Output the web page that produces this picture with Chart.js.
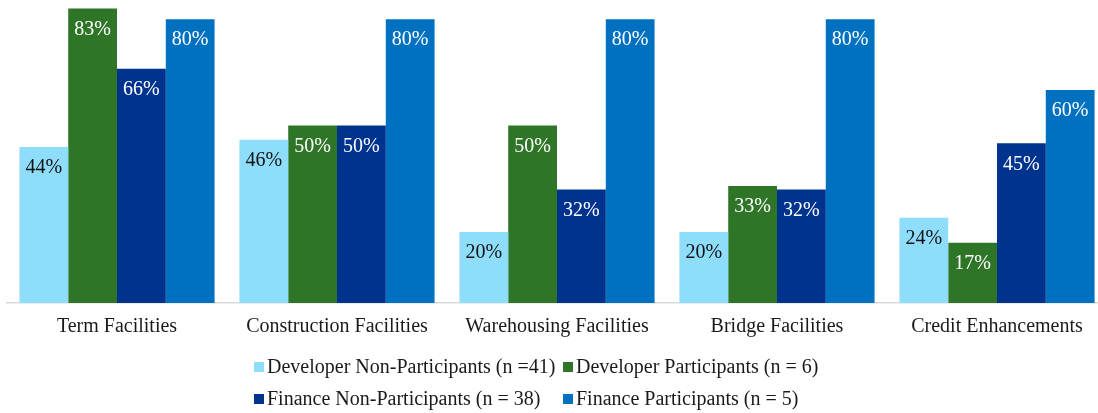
<!DOCTYPE html>
<html>
<head>
<meta charset="utf-8">
<script src="https://cdn.jsdelivr.net/npm/chart.js@4.4.0/dist/chart.umd.min.js"></script>
<style>
    html, body { margin: 0; padding: 0; background: #fff; overflow: hidden; }
    #wrap { width: 1098px; height: 413px; overflow: hidden; position: relative; }
    canvas { position: absolute; left: 0; top: 0; }
</style>
</head>
<body>
<div id="wrap"><canvas id="chart" width="1107" height="413"></canvas></div>
<script>
// Datos del gráfico
const categories = ['Term Facilities', 'Construction Facilities', 'Warehousing Facilities', 'Bridge Facilities', 'Credit Enhancements'];
const seriesNames = [
    'Developer Non-Participants (n =41)',
    'Developer Participants (n = 6)',
    'Finance Non-Participants (n = 38)',
    'Finance Participants (n = 5)'
];
const devNonParticipants = [44, 46, 20, 20, 24];
const devParticipants = [83, 50, 50, 33, 17];
const finNonParticipants = [66, 50, 32, 32, 45];
const finParticipants = [80, 80, 80, 80, 60];

const colors = ['#8EDEFB', '#2E7527', '#00338D', '#0070C0'];
const labelColors = ['#111111', '#ffffff', '#ffffff', '#ffffff'];
const FONT = '"Liberation Serif", "Times New Roman", serif';

// Etiquetas de valores dentro de las barras
const valueLabels = {
    id: 'valueLabels',
    afterDatasetsDraw(chart) {
        const ctx = chart.ctx;
        ctx.save();
        ctx.font = '20px ' + FONT;
        ctx.textAlign = 'center';
        ctx.textBaseline = 'middle';
        chart.data.datasets.forEach((ds, i) => {
            const meta = chart.getDatasetMeta(i);
            meta.data.forEach((bar, j) => {
                ctx.fillStyle = labelColors[i];
                ctx.fillText(ds.data[j] + '%', bar.x, bar.y + 21);
            });
        });
        ctx.restore();
    }
};

// Leyenda en dos filas
const gridLegend = {
    id: 'gridLegend',
    afterDraw(chart) {
        const ctx = chart.ctx;
        const pos = [
            { x: 254, y: 367 }, { x: 563, y: 367 },
            { x: 254, y: 399 }, { x: 563, y: 399 }
        ];
        ctx.save();
        ctx.font = '20px ' + FONT;
        ctx.textBaseline = 'middle';
        ctx.textAlign = 'left';
        chart.data.datasets.forEach((ds, i) => {
            const p = pos[i];
            ctx.fillStyle = ds.backgroundColor;
            ctx.fillRect(p.x, p.y - 5, 10, 10);
            ctx.fillStyle = '#1a1a1a';
            ctx.fillText(ds.label, p.x + 13, p.y + 1);
        });
        ctx.restore();
    }
};

const seriesData = [devNonParticipants, devParticipants, finNonParticipants, finParticipants];

new Chart(document.getElementById('chart'), {
    type: 'bar',
    data: {
        labels: categories,
        datasets: seriesData.map((d, i) => ({
            label: seriesNames[i],
            data: d,
            backgroundColor: colors[i],
            borderWidth: 0,
            barPercentage: 1,
            categoryPercentage: 0.887
        }))
    },
    options: {
        responsive: false,
        animation: false,
        layout: { padding: { left: 7, right: 0, top: 0, bottom: 62 } },
        plugins: {
            legend: { display: false },
            tooltip: { enabled: false }
        },
        scales: {
            x: {
                grid: { display: false, drawTicks: false },
                border: { display: true, color: '#d9d9d9', width: 1.5 },
                ticks: { color: '#1a1a1a', font: { family: FONT, size: 20 }, padding: 12 }
            },
            y: {
                display: false,
                min: 0,
                max: 85.4
            }
        }
    },
    plugins: [valueLabels, gridLegend]
});
</script>
</body>
</html>
